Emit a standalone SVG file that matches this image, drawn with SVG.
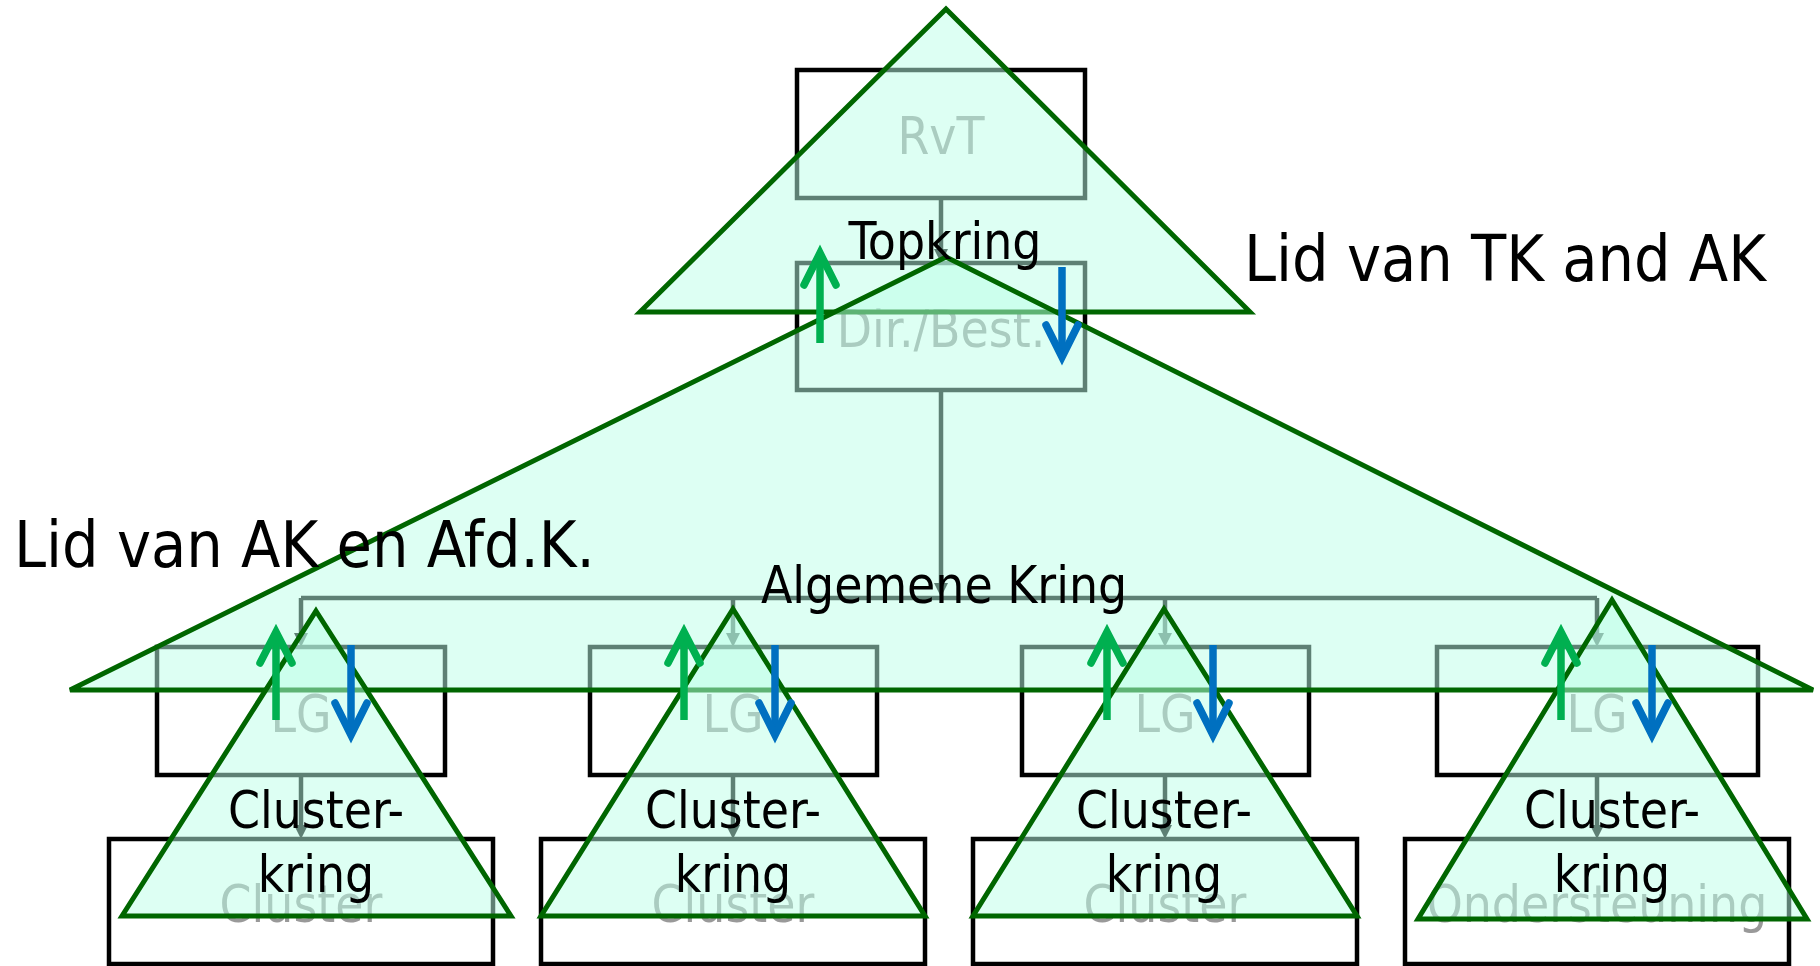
<svg xmlns="http://www.w3.org/2000/svg" width="1820" height="966" viewBox="0 0 1820 966">
<style>
.box{fill:#ffffff;stroke:#000000;stroke-width:4.5}
.gt{font-family:"DejaVu Sans Condensed","DejaVu Sans",sans-serif;font-stretch:condensed;font-size:51px;fill:#999999;text-anchor:middle}
.bt{font-family:"DejaVu Sans Condensed","DejaVu Sans",sans-serif;font-stretch:condensed;font-size:51px;fill:#000000;text-anchor:middle}
.big{font-family:"DejaVu Sans Condensed","DejaVu Sans",sans-serif;font-stretch:condensed;font-size:64px;fill:#000000}
.con{fill:none;stroke:#000000;stroke-width:4.5}
.tri{fill:#bbffe8;fill-opacity:0.5;stroke:#006600;stroke-width:5;stroke-linejoin:miter}
.gs{fill:none;stroke:#00b050;stroke-width:7.5}
.bs{fill:none;stroke:#0070c0;stroke-width:7.5}
.gh{fill:none;stroke:#00b050;stroke-width:7.5;stroke-linecap:round;stroke-linejoin:miter}
.bh{fill:none;stroke:#0070c0;stroke-width:7.5;stroke-linecap:round;stroke-linejoin:miter}
</style>
<defs>
<marker id="ah" markerUnits="userSpaceOnUse" markerWidth="14" markerHeight="14" refX="8" refY="7" orient="auto">
<path d="M0,0 L14,7 L0,14 z" fill="#000000"/>
</marker>
</defs>

<g id="node-rvt"><rect class="box" x="797" y="70" width="288" height="128"/><text class="gt" x="941" y="154">RvT</text></g>
<g id="node-dir"><rect class="box" x="797" y="263" width="288" height="127"/><text class="gt" x="941" y="347">Dir./Best.</text></g>
<g id="node-lg1"><rect class="box" x="157" y="647" width="288" height="128"/><text class="gt" x="301" y="732">LG</text></g>
<g id="node-lg2"><rect class="box" x="590" y="647" width="287" height="128"/><text class="gt" x="733" y="732">LG</text></g>
<g id="node-lg3"><rect class="box" x="1022" y="647" width="287" height="128"/><text class="gt" x="1165" y="732">LG</text></g>
<g id="node-lg4"><rect class="box" x="1437" y="647" width="321" height="128"/><text class="gt" x="1597" y="732">LG</text></g>
<g id="node-cl1"><rect class="box" x="109" y="839" width="384" height="125"/><text class="gt" x="301" y="922">Cluster</text></g>
<g id="node-cl2"><rect class="box" x="541" y="839" width="384" height="125"/><text class="gt" x="733" y="922">Cluster</text></g>
<g id="node-cl3"><rect class="box" x="973" y="839" width="384" height="125"/><text class="gt" x="1165" y="922">Cluster</text></g>
<g id="node-ond"><rect class="box" x="1405" y="839" width="384" height="125"/><text class="gt" x="1597" y="922">Ondersteuning</text></g>

<g id="connectors">
<path class="con" d="M941,198 V257" marker-end="url(#ah)"/>
<path class="con" d="M941,390 V591" marker-end="url(#ah)"/>
<path class="con" d="M301,598 H1597"/>
<path class="con" d="M301,598 V641" marker-end="url(#ah)"/>
<path class="con" d="M733,598 V641" marker-end="url(#ah)"/>
<path class="con" d="M1165,598 V641" marker-end="url(#ah)"/>
<path class="con" d="M1597,598 V641" marker-end="url(#ah)"/>
<path class="con" d="M301,775 V833" marker-end="url(#ah)"/>
<path class="con" d="M733,775 V833" marker-end="url(#ah)"/>
<path class="con" d="M1165,775 V833" marker-end="url(#ah)"/>
<path class="con" d="M1597,775 V833" marker-end="url(#ah)"/>
</g>

<g id="circle-top"><polygon class="tri" points="946,9 1250,312 640,312"/></g>
<g id="circle-ak"><polygon class="tri" points="946,257 1813,690 70,690"/></g>
<g id="circle-c1"><polygon class="tri" points="316,611 511,916 122,916"/></g>
<g id="circle-c2"><polygon class="tri" points="733,609 925,916 541,916"/></g>
<g id="circle-c3"><polygon class="tri" points="1164,609 1357,916 973,916"/></g>
<g id="circle-c4"><polygon class="tri" points="1612,600 1807,919 1418,919"/></g>

<g id="labels">
<text class="bt" x="945" y="259">Topkring</text>
<text class="bt" x="944" y="603">Algemene Kring</text>
<text class="big" x="1244" y="281">Lid van TK and AK</text>
<text class="big" x="14" y="567">Lid van AK en Afd.K.</text>
<text class="bt" x="316" y="828">Cluster-</text><text class="bt" x="316" y="892">kring</text>
<text class="bt" x="733" y="828">Cluster-</text><text class="bt" x="733" y="892">kring</text>
<text class="bt" x="1164" y="828">Cluster-</text><text class="bt" x="1164" y="892">kring</text>
<text class="bt" x="1612" y="828">Cluster-</text><text class="bt" x="1612" y="892">kring</text>
</g>

<g id="arrows-up">
<path class="gs" d="M820,343 V258"/><path class="gh" d="M804,285 L820,253 L836,285"/>
<path class="gs" d="M276,720 V637"/><path class="gh" d="M260,663 L276,632 L292,663"/>
<path class="gs" d="M684,720 V637"/><path class="gh" d="M668,663 L684,632 L700,663"/>
<path class="gs" d="M1107,720 V637"/><path class="gh" d="M1091,663 L1107,632 L1123,663"/>
<path class="gs" d="M1561,720 V637"/><path class="gh" d="M1545,663 L1561,632 L1577,663"/>
</g>
<g id="arrows-down">
<path class="bs" d="M1062,267 V352"/><path class="bh" d="M1046,325 L1062,357 L1078,325"/>
<path class="bs" d="M351,645 V730"/><path class="bh" d="M335,703 L351,735 L367,703"/>
<path class="bs" d="M775,645 V730"/><path class="bh" d="M759,703 L775,735 L791,703"/>
<path class="bs" d="M1213,645 V730"/><path class="bh" d="M1197,703 L1213,735 L1229,703"/>
<path class="bs" d="M1652,645 V730"/><path class="bh" d="M1636,703 L1652,735 L1668,703"/>
</g>
</svg>
